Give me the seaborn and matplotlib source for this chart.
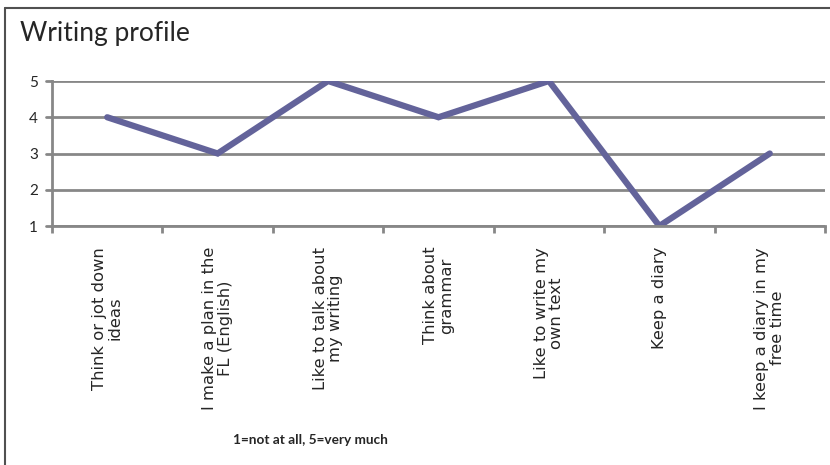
import matplotlib
matplotlib.use("Agg")
import matplotlib.pyplot as plt
import seaborn as sns
import pandas as pd
from matplotlib.lines import Line2D

categories = [
    "Think or jot down\nideas",
    "I make a plan in the\nFL (English)",
    "Like to talk about\nmy writing",
    "Think about\ngrammar",
    "Like to write my\nown text",
    "Keep a diary",
    "I keep a diary in my\nfree time",
]
values = [4, 3, 5, 4, 5, 1, 3]
yticks = [1, 2, 3, 4, 5]

sns.set_theme(style="white")
plt.rcParams['font.family'] = ['DejaVu Sans']

W, H = 830, 465
fig = plt.figure(figsize=(W / 100, H / 100), dpi=100)
left, right, top, bottom = 52, 825, 81, 226
ax = fig.add_axes([left / W, 1 - bottom / H, (right - left) / W, (bottom - top) / H])

df = pd.DataFrame({"x": list(range(len(categories))), "y": values})
sns.lineplot(data=df, x="x", y="y", ax=ax, color="#63639a", linewidth=4.5,
             solid_capstyle="round", solid_joinstyle="miter")

ax.set_xlim(-0.5, len(categories) - 0.5)
ax.set_ylim(1, 5)
ax.set_yticks(yticks)
ax.set_yticklabels([str(v) for v in yticks], fontsize=11, family="Lato")
ax.set_xticks(range(len(categories)))
ax.set_xticklabels(categories, rotation=90, fontsize=11.8, ha="center", va="top",
                   multialignment="center", linespacing=1.05)
ax.tick_params(axis="x", which="major", bottom=True, length=0, pad=15)
ax.tick_params(axis="y", length=0, pad=10)

# minor ticks at category boundaries
bounds = [i - 0.5 for i in range(len(categories) + 1)]
ax.set_xticks(bounds, minor=True)
ax.tick_params(axis="x", which="minor", bottom=True, length=5, width=2,
               color="#878787", direction="out")

ax.grid(axis="y", color="#878787", linewidth=2)
ax.set_axisbelow(True)
for s in ["top", "right"]:
    ax.spines[s].set_visible(False)
for s in ["left", "bottom"]:
    ax.spines[s].set_color("#878787")
    ax.spines[s].set_linewidth(2)
ax.set_xlabel("")
ax.set_ylabel("")
# y-axis tick marks extending left
for v in yticks:
    ax.plot([-0.5 - 6 / 110.4, -0.5], [v, v], color="#878787", lw=2, clip_on=False, zorder=1)

fig.text(20 / W, 1 - 33 / H, "Writing profile", fontsize=19, family="Lato", va="center", ha="left")
fig.text(310 / W, 1 - 440 / H, "1=not at all, 5=very much", fontsize=9.8, family="Lato",
         fontweight="bold", ha="center", va="center")

# outer border
fig.add_artist(Line2D([5 / W, 5 / W], [0, 1 - 8 / H], transform=fig.transFigure, color="#505050", lw=1.5))
fig.add_artist(Line2D([5 / W, 1], [1 - 8 / H, 1 - 8 / H], transform=fig.transFigure, color="#505050", lw=1.5))

fig.savefig("out.png", dpi=100)
